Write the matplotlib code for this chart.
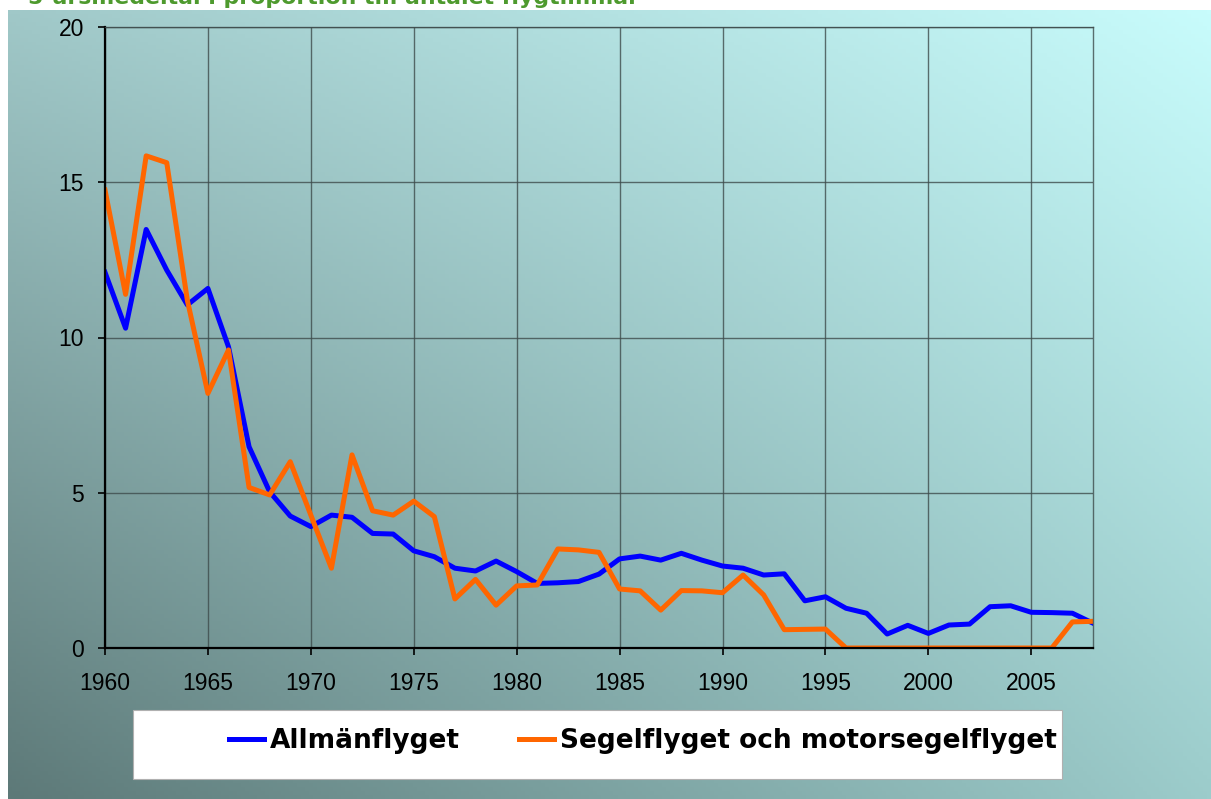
import numpy as np
import matplotlib
matplotlib.use('Agg')
import matplotlib.pyplot as plt
from matplotlib.patches import Rectangle

# Years 1960-2008
years = list(range(1960, 2009))

# Allmänflyget (blue)
allman = [12.10, 10.30, 13.48, 12.17, 11.05, 11.58, 9.70, 6.48, 5.03, 4.25,
          3.91, 4.28, 4.21, 3.69, 3.67, 3.13, 2.94, 2.57, 2.48, 2.80,
          2.46, 2.08, 2.10, 2.14, 2.38, 2.87, 2.96, 2.83, 3.05, 2.83,
          2.64, 2.57, 2.35, 2.39, 1.52, 1.65, 1.28, 1.12, 0.45, 0.73,
          0.47, 0.74, 0.77, 1.33, 1.36, 1.15, 1.14, 1.12, 0.80]

# Segelflyget och motorsegelflyget (orange)
segel = [14.75, 11.39, 15.85, 15.63, 11.20, 8.20, 9.60, 5.17, 4.93, 6.00,
         4.28, 2.57, 6.22, 4.42, 4.28, 4.73, 4.23, 1.58, 2.21, 1.38,
         2.00, 2.03, 3.19, 3.16, 3.08, 1.90, 1.84, 1.22, 1.85, 1.84,
         1.78, 2.35, 1.71, 0.59, 0.60, 0.61, 0.00, 0.00, 0.00, 0.00,
         0.00, 0.00, 0.00, 0.00, 0.00, 0.00, 0.00, 0.84, 0.86]

labels = ['Allmänflyget', 'Segelflyget och motorsegelflyget']
title = '5-årsmedeltal i proportion till antalet flygtimmar'

W, H = 1211, 799
fig = plt.figure(figsize=(W / 100, H / 100), dpi=100)
fig.patch.set_facecolor('white')

# gradient background (bilinear between corner colours)
bg = fig.add_axes([8 / W, 0, 1 - 8 / W, 789 / H], zorder=0)
bl = np.array([0x5d, 0x79, 0x78]) / 255
tl = np.array([0xa0, 0xc8, 0xc8]) / 255
br = np.array([0x9c, 0xcc, 0xcb]) / 255
tr = np.array([0xc8, 0xfc, 0xfc]) / 255
u = np.linspace(0, 1, 300)[None, :, None]
v = np.linspace(1, 0, 200)[:, None, None]
img = (bl * (1 - u) * (1 - v) + br * u * (1 - v) + tl * (1 - u) * v + tr * u * v)
bg.imshow(np.clip(img, 0, 1), aspect='auto', extent=[0, 1, 0, 1])
bg.axis('off')

ax = fig.add_axes([105 / W, (H - 648) / H, (1093 - 105) / W, (648 - 27) / H], zorder=2)
ax.set_facecolor('none')

ax.plot(years, allman, color='#0000ff', lw=3.6, solid_joinstyle='round', label=labels[0])
ax.plot(years, segel, color='#ff6600', lw=3.6, solid_joinstyle='round', label=labels[1])

ax.set_xlim(1960, 2008)
ax.set_ylim(0, 20)
ax.set_xticks(range(1960, 2006, 5))
ax.set_yticks(range(0, 21, 5))
ax.grid(True, color='#3e4c4c', lw=1.0, alpha=0.8)
ax.set_axisbelow(True)

for s in ['left', 'bottom']:
    ax.spines[s].set_color('black')
    ax.spines[s].set_linewidth(1.6)
for s in ['top', 'right']:
    ax.spines[s].set_color('#3e4c4c')
    ax.spines[s].set_alpha(0.8)
    ax.spines[s].set_linewidth(1.0)

ax.tick_params(axis='both', direction='out', length=5, width=1.2, color='black',
               labelsize=16.5, labelcolor='black')
ax.tick_params(axis='y', pad=10)
ax.tick_params(axis='x', pad=12)
for lab in ax.get_xticklabels() + ax.get_yticklabels():
    lab.set_family('Liberation Sans')

# legend box
fig.patches.append(Rectangle((133 / W, (H - 779) / H), (1062 - 133) / W, 69 / H,
                             transform=fig.transFigure, facecolor='white',
                             edgecolor='#b0b0b0', lw=0.8, zorder=3))
leg = fig.legend(loc='center left', bbox_to_anchor=(216 / W, (H - 741) / H),
                 ncol=2, frameon=False, borderpad=0, handlelength=1.3,
                 handletextpad=0.25, columnspacing=2.25,
                 prop={'family': 'DejaVu Sans', 'weight': 'bold', 'size': 19})
leg.set_zorder(4)

# title, mostly cut off at the top edge
fig.text(28 / W, 1 - 4 / H, title, color='#4e9a2e', fontsize=15.8,
         fontweight='bold', va='baseline', ha='left', zorder=5)

fig.savefig('out.png', dpi=100)
